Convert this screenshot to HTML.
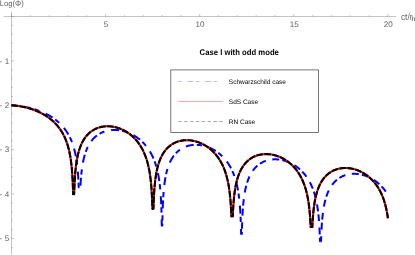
<!DOCTYPE html>
<html><head><meta charset="utf-8"><title>plot</title>
<style>
html,body{margin:0;padding:0;background:#fff;}
body{width:415px;height:255px;overflow:hidden;font-family:"Liberation Sans",sans-serif;}
svg{display:block;will-change:transform;}
text{font-family:"Liberation Sans",sans-serif;text-rendering:geometricPrecision;}
</style></head><body>
<svg width="415" height="255" viewBox="0 0 415 255">
<rect width="415" height="255" fill="#fff"/>
<g stroke="#888" stroke-width="0.5" fill="none">
<line x1="3.5" y1="16.5" x2="396" y2="16.5"/>
<line x1="11.5" y1="11.8" x2="11.5" y2="254.4"/>
<line x1="11.50" y1="16.5" x2="11.50" y2="14.0"/><line x1="30.32" y1="16.5" x2="30.32" y2="15.1"/><line x1="49.14" y1="16.5" x2="49.14" y2="15.1"/><line x1="67.96" y1="16.5" x2="67.96" y2="15.1"/><line x1="86.78" y1="16.5" x2="86.78" y2="15.1"/><line x1="105.60" y1="16.5" x2="105.60" y2="14.0"/><line x1="124.42" y1="16.5" x2="124.42" y2="15.1"/><line x1="143.24" y1="16.5" x2="143.24" y2="15.1"/><line x1="162.06" y1="16.5" x2="162.06" y2="15.1"/><line x1="180.88" y1="16.5" x2="180.88" y2="15.1"/><line x1="199.70" y1="16.5" x2="199.70" y2="14.0"/><line x1="218.52" y1="16.5" x2="218.52" y2="15.1"/><line x1="237.34" y1="16.5" x2="237.34" y2="15.1"/><line x1="256.16" y1="16.5" x2="256.16" y2="15.1"/><line x1="274.98" y1="16.5" x2="274.98" y2="15.1"/><line x1="293.80" y1="16.5" x2="293.80" y2="14.0"/><line x1="312.62" y1="16.5" x2="312.62" y2="15.1"/><line x1="331.44" y1="16.5" x2="331.44" y2="15.1"/><line x1="350.26" y1="16.5" x2="350.26" y2="15.1"/><line x1="369.08" y1="16.5" x2="369.08" y2="15.1"/><line x1="387.90" y1="16.5" x2="387.90" y2="14.0"/>
<line x1="11.5" y1="16.50" x2="14.0" y2="16.50"/><line x1="11.5" y1="25.38" x2="12.9" y2="25.38"/><line x1="11.5" y1="34.26" x2="12.9" y2="34.26"/><line x1="11.5" y1="43.14" x2="12.9" y2="43.14"/><line x1="11.5" y1="52.02" x2="12.9" y2="52.02"/><line x1="11.5" y1="60.90" x2="14.0" y2="60.90"/><line x1="11.5" y1="69.78" x2="12.9" y2="69.78"/><line x1="11.5" y1="78.66" x2="12.9" y2="78.66"/><line x1="11.5" y1="87.54" x2="12.9" y2="87.54"/><line x1="11.5" y1="96.42" x2="12.9" y2="96.42"/><line x1="11.5" y1="105.30" x2="14.0" y2="105.30"/><line x1="11.5" y1="114.18" x2="12.9" y2="114.18"/><line x1="11.5" y1="123.06" x2="12.9" y2="123.06"/><line x1="11.5" y1="131.94" x2="12.9" y2="131.94"/><line x1="11.5" y1="140.82" x2="12.9" y2="140.82"/><line x1="11.5" y1="149.70" x2="14.0" y2="149.70"/><line x1="11.5" y1="158.58" x2="12.9" y2="158.58"/><line x1="11.5" y1="167.46" x2="12.9" y2="167.46"/><line x1="11.5" y1="176.34" x2="12.9" y2="176.34"/><line x1="11.5" y1="185.22" x2="12.9" y2="185.22"/><line x1="11.5" y1="194.10" x2="14.0" y2="194.10"/><line x1="11.5" y1="202.98" x2="12.9" y2="202.98"/><line x1="11.5" y1="211.86" x2="12.9" y2="211.86"/><line x1="11.5" y1="220.74" x2="12.9" y2="220.74"/><line x1="11.5" y1="229.62" x2="12.9" y2="229.62"/><line x1="11.5" y1="238.50" x2="14.0" y2="238.50"/><line x1="11.5" y1="247.38" x2="12.9" y2="247.38"/>
</g>
<g font-size="8.1" fill="#5e5e5e">
<text x="106.00" y="26.8" text-anchor="middle">5</text><text x="200.10" y="26.8" text-anchor="middle">10</text><text x="294.20" y="26.8" text-anchor="middle">15</text><text x="388.30" y="26.8" text-anchor="middle">20</text>
<text x="-0.5" y="63.50">-</text><text x="9.3" y="63.50" text-anchor="end">1</text><text x="-0.5" y="107.90">-</text><text x="9.3" y="107.90" text-anchor="end">2</text><text x="-0.5" y="152.30">-</text><text x="9.3" y="152.30" text-anchor="end">3</text><text x="-0.5" y="196.70">-</text><text x="9.3" y="196.70" text-anchor="end">4</text><text x="-0.5" y="241.10">-</text><text x="9.3" y="241.10" text-anchor="end">5</text>
<text x="-0.3" y="5.9" font-size="8" textLength="24" lengthAdjust="spacingAndGlyphs">Log(Φ)</text>
<text x="400.9" y="19.9" font-size="9.3" textLength="11.6" lengthAdjust="spacingAndGlyphs">ct/r</text><text x="411.75" y="21.4" font-size="6.4" fill="#444">h</text>
</g>
<text x="199.6" y="54.8" font-size="8.3" textLength="79.3" lengthAdjust="spacingAndGlyphs" font-weight="bold" fill="#000">Case I with odd mode</text>
<rect x="170.8" y="69.9" width="147.7" height="62.6" fill="#fff" stroke="#555" stroke-width="0.8"/>
<line x1="178.3" y1="81.5" x2="222.8" y2="81.5" stroke="#a8a8ff" stroke-width="0.8" stroke-dasharray="3.5 5.5 6.3 2.4"/>
<line x1="178.3" y1="101.5" x2="222.9" y2="101.5" stroke="#ff5050" stroke-width="0.5"/>
<line x1="178.3" y1="121.5" x2="222.9" y2="121.5" stroke="#555" stroke-width="0.5" stroke-dasharray="3.5 2.35"/>
<g font-size="6.5" fill="#000">
<text x="228.8" y="84.3">Schwarzschild case</text>
<text x="228.8" y="104.2">SdS Case</text>
<text x="228.8" y="124.2">RN Case</text>
</g>
<g fill="none" stroke-linejoin="round">
<g stroke="#0000ff" stroke-width="2.0"><path d="M11.5,105.3 L11.51,105.3 L11.52,105.3 L11.54,105.3 L11.56,105.3 L11.59,105.3 L11.62,105.31 L11.66,105.31 L11.7,105.31 L11.75,105.31 L11.8,105.31 L11.86,105.32 L11.92,105.32 L11.99,105.32 L12.06,105.33 L12.14,105.33 L12.22,105.34 L12.31,105.34 L12.4,105.35 L12.49,105.35 L12.6,105.36 L12.7,105.36 L12.81,105.37 L12.93,105.38 L13.05,105.39 L13.18,105.39 L13.31,105.4 L13.44,105.41 L13.58,105.42 L13.72,105.43 L13.87,105.44 L14.03,105.45 L14.19,105.46 L14.35,105.48 L14.52,105.49 L14.69,105.5 L14.86,105.52 L15.05,105.53 L15.23,105.55 L15.42,105.56 L15.61,105.58 L15.81,105.6 L16.02,105.62 L16.22,105.64 L16.44,105.66 L16.65,105.68 L16.87,105.7 L17.1,105.73 L17.33,105.75 L17.56,105.78 L17.8,105.8 L18.04,105.83 L18.28,105.86 L18.53,105.89 L18.78,105.92 L19.04,105.95 L19.3,105.98 L19.57,106.02 L19.83,106.05 L20.11,106.09 L20.38,106.13 L20.66,106.17 L20.95,106.21 L21.23,106.25 L21.52,106.3 L21.82,106.34 L22.11,106.39 L22.41,106.44 L22.72,106.49 L23.03,106.54 L23.34,106.59 L23.65,106.64 L23.97,106.7 L24.29,106.76 L24.61,106.82 L24.94,106.88 L25.27,106.94 L25.6,107.01 L25.94,107.08 L26.28,107.15 L26.62,107.22 L26.96,107.29 L27.31,107.36 L27.66,107.44 L28.01,107.52 L28.37,107.6 L28.72,107.68 L29.08,107.77 L29.45,107.86 L29.81,107.95 L30.18,108.04 L30.55,108.13 L30.92,108.23 L31.29,108.33 L31.67,108.43 L32.04,108.53 L32.42,108.64 L32.8,108.75 L33.19,108.86 L33.57,108.97 L33.96,109.09 L34.35,109.2 L34.74,109.32 L35.13,109.45 L35.52,109.57 L35.92,109.7 L36.31,109.84 L36.71,109.97 L37.11,110.11 L37.51,110.25 L37.91,110.39 L38.31,110.54 L38.72,110.68 L39.12,110.84 L39.53,110.99 L39.93,111.15 L40.34,111.31 L40.75,111.47 L41.16,111.64 L41.56,111.81 L41.97,111.98 L42.38,112.16 L42.79,112.34 L43.21,112.52 L43.62,112.71 L44.03,112.9 L44.44,113.09 L44.85,113.28 L45.26,113.48 L45.68,113.69 L46.09,113.89 L46.5,114.1 L46.91,114.32 L47.32,114.54 L47.73,114.76 L48.15,114.98 L48.56,115.21 L48.97,115.44 L49.38,115.68 L49.78,115.92 L50.19,116.16 L50.6,116.41 L51.01,116.66 L51.41,116.92 L51.82,117.18 L52.22,117.44 L52.63,117.71 L53.03,117.98 L53.43,118.26 L53.83,118.54 L54.23,118.83 L54.63,119.12 L55.02,119.41 L55.42,119.71 L55.81,120.02 L56.2,120.33 L56.59,120.64 L56.98,120.96 L57.37,121.28 L57.75,121.61 L58.14,121.94 L58.52,122.28 L58.9,122.62 L59.27,122.97 L59.65,123.33 L60.02,123.69 L60.39,124.05 L60.76,124.42 L61.13,124.8 L61.49,125.18 L61.86,125.57 L62.22,125.96 L62.57,126.36 L62.93,126.77 L63.28,127.18 L63.63,127.6 L63.98,128.02 L64.32,128.45 L64.66,128.89 L65.0,129.34 L65.34,129.79 L65.67,130.25 L66.0,130.72 L66.33,131.19 L66.65,131.68 L66.97,132.17 L67.29,132.67 L67.6,133.17 L67.91,133.69 L68.22,134.21 L68.53,134.75 L68.83,135.29 L69.12,135.84 L69.42,136.4 L69.71,136.97 L70.0,137.55 L70.28,138.14 L70.56,138.75 L70.83,139.36 L71.11,139.98 L71.37,140.62 L71.64,141.27 L71.9,141.93 L72.16,142.6 L72.41,143.29 L72.66,143.99 L72.9,144.71 L73.14,145.44 L73.38,146.19 L73.61,146.95 L73.84,147.73 L74.07,148.52 L74.29,149.33 L74.5,150.17 L74.72,151.02 L74.92,151.89 L75.13,152.79 L75.33,153.7 L75.52,154.64 L75.71,155.61 L75.9,156.6 L76.08,157.61 L76.25,158.66 L76.42,159.73 L76.59,160.84 L76.75,161.98 L76.91,163.16 L77.07,164.38 L77.22,165.63 L77.36,166.93 L77.5,168.28 L77.63,169.67 L77.76,171.12 L77.89,172.63 L78.01,174.19 L78.13,175.83 L78.24,177.54 L78.34,179.33 L78.45,181.2 L78.54,183.17 L78.63,185.26 L78.72,187.22 L78.8,187.22 L78.88,187.22 L78.95,187.22 L79.02,187.22 L79.08,187.22 L79.14,187.22 L79.19,187.22 L79.24,187.22 L79.28,187.22 L79.32,187.22 L79.35,187.22 L79.38,187.22 L79.4,187.22 L79.42,187.22 L79.43,187.22 L79.44,187.22" stroke-dasharray="8.0 3.1 5.3 6.9" stroke-dashoffset="11.21"/><path d="M79.44,187.22 L79.45,187.22 L79.47,187.22 L79.49,187.22 L79.52,187.22 L79.55,187.22 L79.59,187.22 L79.63,187.22 L79.69,187.22 L79.74,187.22 L79.81,187.22 L79.88,187.22 L79.95,187.22 L80.03,187.22 L80.12,187.22 L80.22,187.22 L80.32,187.22 L80.42,186.58 L80.53,184.53 L80.65,182.58 L80.77,180.73 L80.9,178.97 L81.04,177.3 L81.18,175.7 L81.33,174.16 L81.48,172.69 L81.64,171.28 L81.8,169.93 L81.97,168.62 L82.15,167.36 L82.33,166.15 L82.51,164.98 L82.71,163.85 L82.9,162.76 L83.11,161.7 L83.32,160.68 L83.53,159.68 L83.75,158.72 L83.98,157.79 L84.21,156.88 L84.44,156.01 L84.69,155.15 L84.93,154.32 L85.19,153.51 L85.44,152.73 L85.71,151.97 L85.97,151.23 L86.25,150.5 L86.52,149.8 L86.81,149.12 L87.1,148.45 L87.39,147.8 L87.69,147.17 L87.99,146.55 L88.3,145.95 L88.61,145.37 L88.93,144.8 L89.25,144.24 L89.57,143.7 L89.91,143.17 L90.24,142.66 L90.58,142.16 L90.93,141.67 L91.28,141.2 L91.63,140.73 L91.99,140.28 L92.35,139.84 L92.71,139.42 L93.08,139.0 L93.46,138.6 L93.84,138.21 L94.22,137.82 L94.6,137.45 L94.99,137.09 L95.39,136.74 L95.78,136.4 L96.19,136.07 L96.59,135.75 L97.0,135.44 L97.41,135.13 L97.83,134.84 L98.24,134.56 L98.67,134.29 L99.09,134.02 L99.52,133.77 L99.95,133.52 L100.39,133.28 L100.82,133.06 L101.26,132.84 L101.71,132.62 L102.15,132.42 L102.6,132.23 L103.05,132.04 L103.51,131.86 L103.96,131.7 L104.42,131.53 L104.88,131.38 L105.35,131.24 L105.81,131.1 L106.28,130.97 L106.75,130.85 L107.22,130.74 L107.7,130.63 L108.18,130.53 L108.65,130.44 L109.13,130.36 L109.62,130.28 L110.1,130.22 L110.58,130.16 L111.07,130.1 L111.56,130.06 L112.05,130.02 L112.54,129.99 L113.03,129.97 L113.52,129.95 L114.02,129.95 L114.51,129.95 L115.01,129.95 L115.5,129.97 L116.0,129.99 L116.5,130.01 L117.0,130.05 L117.5,130.09 L118.0,130.14 L118.5,130.2 L119.0,130.26 L119.5,130.33 L120.0,130.41 L120.5,130.49 L121.0,130.59 L121.5,130.69 L122.0,130.79 L122.5,130.9 L123.0,131.02 L123.5,131.15 L124.0,131.28 L124.5,131.42 L125.0,131.57 L125.5,131.73 L126.0,131.89 L126.49,132.06 L126.99,132.23 L127.48,132.41 L127.98,132.6 L128.47,132.8 L128.96,133.0 L129.45,133.21 L129.94,133.43 L130.43,133.65 L130.92,133.88 L131.4,134.12 L131.88,134.36 L132.37,134.61 L132.85,134.87 L133.32,135.14 L133.8,135.41 L134.28,135.69 L134.75,135.97 L135.22,136.27 L135.69,136.57 L136.15,136.88 L136.62,137.19 L137.08,137.51 L137.54,137.84 L137.99,138.18 L138.45,138.52 L138.9,138.87 L139.35,139.23 L139.79,139.6 L140.24,139.97 L140.68,140.35 L141.12,140.74 L141.55,141.14 L141.98,141.54 L142.41,141.95 L142.83,142.37 L143.26,142.8 L143.67,143.24 L144.09,143.68 L144.5,144.13 L144.91,144.59 L145.31,145.06 L145.72,145.54 L146.11,146.03 L146.51,146.52 L146.9,147.02 L147.28,147.54 L147.66,148.06 L148.04,148.59 L148.42,149.13 L148.79,149.68 L149.15,150.24 L149.51,150.81 L149.87,151.4 L150.23,151.99 L150.57,152.59 L150.92,153.2 L151.26,153.83 L151.59,154.47 L151.93,155.11 L152.25,155.77 L152.57,156.45 L152.89,157.13 L153.2,157.83 L153.51,158.55 L153.81,159.27 L154.11,160.01 L154.4,160.77 L154.69,161.54 L154.98,162.33 L155.25,163.14 L155.53,163.96 L155.79,164.8 L156.06,165.66 L156.31,166.54 L156.57,167.44 L156.81,168.36 L157.06,169.3 L157.29,170.26 L157.52,171.25 L157.75,172.27 L157.97,173.31 L158.18,174.38 L158.39,175.48 L158.6,176.61 L158.79,177.78 L158.99,178.98 L159.17,180.22 L159.35,181.5 L159.53,182.82 L159.7,184.19 L159.86,185.6 L160.02,187.07 L160.18,188.6 L160.32,190.18 L160.46,191.84 L160.6,193.56 L160.73,195.37 L160.85,197.26 L160.97,199.25 L161.08,201.35 L161.18,203.56 L161.28,205.91 L161.38,208.41 L161.47,211.08 L161.55,213.94 L161.62,217.04 L161.69,220.4 L161.76,224.08 L161.81,225.62 L161.87,225.62 L161.91,225.62 L161.95,225.62 L161.98,225.62 L162.01,225.62 L162.03,225.62 L162.05,225.62 L162.06,225.62" stroke-dasharray="8.0 3.1 5.3 6.9" stroke-dashoffset="20.96"/><path d="M162.06,225.62 L162.07,225.62 L162.09,225.62 L162.11,225.62 L162.13,225.62 L162.17,225.62 L162.2,225.62 L162.25,225.62 L162.3,225.62 L162.35,224.19 L162.41,220.53 L162.48,217.2 L162.55,214.13 L162.63,211.29 L162.72,208.65 L162.81,206.19 L162.9,203.88 L163.0,201.7 L163.11,199.64 L163.22,197.7 L163.34,195.85 L163.47,194.09 L163.6,192.41 L163.73,190.81 L163.87,189.27 L164.02,187.8 L164.17,186.39 L164.33,185.03 L164.49,183.73 L164.66,182.47 L164.83,181.26 L165.01,180.08 L165.2,178.95 L165.39,177.86 L165.59,176.8 L165.79,175.77 L165.99,174.78 L166.2,173.82 L166.42,172.88 L166.64,171.98 L166.87,171.1 L167.1,170.24 L167.34,169.41 L167.58,168.6 L167.83,167.81 L168.08,167.05 L168.34,166.3 L168.6,165.58 L168.87,164.88 L169.14,164.19 L169.42,163.52 L169.7,162.87 L169.99,162.23 L170.28,161.62 L170.57,161.01 L170.87,160.43 L171.18,159.85 L171.49,159.3 L171.8,158.75 L172.12,158.22 L172.44,157.71 L172.77,157.2 L173.1,156.71 L173.44,156.24 L173.78,155.77 L174.12,155.32 L174.47,154.88 L174.82,154.45 L175.18,154.03 L175.53,153.62 L175.9,153.23 L176.27,152.84 L176.64,152.47 L177.01,152.11 L177.39,151.75 L177.77,151.41 L178.16,151.07 L178.55,150.75 L178.94,150.44 L179.33,150.13 L179.73,149.84 L180.14,149.55 L180.54,149.28 L180.95,149.01 L181.36,148.75 L181.78,148.5 L182.19,148.26 L182.61,148.03 L183.04,147.81 L183.46,147.59 L183.89,147.39 L184.32,147.19 L184.76,147.0 L185.19,146.82 L185.63,146.65 L186.07,146.48 L186.52,146.33 L186.96,146.18 L187.41,146.04 L187.86,145.9 L188.31,145.78 L188.77,145.66 L189.22,145.55 L189.68,145.45 L190.14,145.36 L190.6,145.27 L191.07,145.2 L191.53,145.12 L192.0,145.06 L192.46,145.01 L192.93,144.96 L193.4,144.92 L193.88,144.88 L194.35,144.86 L194.82,144.84 L195.3,144.83 L195.77,144.82 L196.25,144.83 L196.73,144.84 L197.2,144.85 L197.68,144.88 L198.16,144.91 L198.64,144.95 L199.12,144.99 L199.6,145.05 L200.08,145.11 L200.57,145.17 L201.05,145.25 L201.53,145.33 L202.01,145.42 L202.49,145.51 L202.97,145.61 L203.46,145.72 L203.94,145.84 L204.42,145.96 L204.9,146.09 L205.38,146.23 L205.86,146.37 L206.34,146.52 L206.81,146.68 L207.29,146.85 L207.77,147.02 L208.24,147.2 L208.72,147.38 L209.19,147.57 L209.66,147.77 L210.14,147.98 L210.61,148.19 L211.08,148.41 L211.54,148.64 L212.01,148.87 L212.47,149.11 L212.94,149.36 L213.4,149.62 L213.86,149.88 L214.32,150.15 L214.77,150.42 L215.23,150.71 L215.68,151.0 L216.13,151.29 L216.58,151.6 L217.02,151.91 L217.47,152.23 L217.91,152.56 L218.35,152.89 L218.78,153.23 L219.22,153.58 L219.65,153.93 L220.08,154.3 L220.5,154.67 L220.93,155.04 L221.35,155.43 L221.76,155.82 L222.18,156.22 L222.59,156.63 L223.0,157.05 L223.4,157.47 L223.81,157.91 L224.21,158.35 L224.6,158.8 L224.99,159.25 L225.38,159.72 L225.77,160.2 L226.15,160.68 L226.53,161.17 L226.9,161.67 L227.27,162.18 L227.64,162.7 L228.01,163.23 L228.37,163.77 L228.72,164.32 L229.07,164.88 L229.42,165.44 L229.76,166.02 L230.1,166.61 L230.44,167.21 L230.77,167.82 L231.1,168.45 L231.42,169.08 L231.74,169.73 L232.05,170.38 L232.36,171.05 L232.67,171.74 L232.97,172.44 L233.26,173.15 L233.55,173.87 L233.84,174.61 L234.12,175.37 L234.4,176.14 L234.67,176.92 L234.94,177.72 L235.2,178.54 L235.46,179.38 L235.71,180.24 L235.96,181.12 L236.2,182.01 L236.44,182.93 L236.67,183.87 L236.9,184.84 L237.12,185.83 L237.34,186.84 L237.55,187.88 L237.75,188.95 L237.96,190.05 L238.15,191.18 L238.34,192.34 L238.53,193.54 L238.71,194.78 L238.88,196.06 L239.05,197.38 L239.21,198.74 L239.37,200.16 L239.52,201.63 L239.67,203.15 L239.81,204.74 L239.95,206.39 L240.07,208.11 L240.2,209.92 L240.32,211.81 L240.43,213.8 L240.54,215.89 L240.64,218.11 L240.73,220.46 L240.82,222.95 L240.91,225.62 L240.99,228.49 L241.06,231.58 L241.13,234.06 L241.19,234.06 L241.24,234.06 L241.29,234.06 L241.34,234.06 L241.38,234.06 L241.41,234.06 L241.43,234.06 L241.45,234.06 L241.47,234.06 L241.48,234.06" stroke-dasharray="8.0 3.1 5.3 6.9" stroke-dashoffset="5.78"/><path d="M241.48,234.06 L241.49,234.06 L241.51,234.06 L241.53,234.06 L241.55,234.06 L241.59,234.06 L241.62,234.06 L241.67,234.06 L241.72,234.06 L241.77,234.06 L241.83,234.06 L241.9,231.73 L241.97,228.67 L242.05,225.83 L242.13,223.19 L242.22,220.73 L242.32,218.42 L242.42,216.24 L242.53,214.18 L242.64,212.24 L242.76,210.39 L242.88,208.63 L243.01,206.95 L243.14,205.35 L243.28,203.81 L243.43,202.34 L243.58,200.93 L243.74,199.57 L243.9,198.27 L244.07,197.01 L244.24,195.79 L244.42,194.62 L244.6,193.49 L244.79,192.4 L244.99,191.34 L245.19,190.31 L245.39,189.32 L245.6,188.35 L245.82,187.42 L246.04,186.51 L246.27,185.63 L246.5,184.77 L246.74,183.94 L246.98,183.13 L247.22,182.35 L247.47,181.58 L247.73,180.84 L247.99,180.11 L248.26,179.41 L248.53,178.72 L248.8,178.05 L249.08,177.4 L249.37,176.77 L249.66,176.15 L249.95,175.55 L250.25,174.96 L250.56,174.39 L250.86,173.83 L251.18,173.28 L251.49,172.75 L251.81,172.24 L252.14,171.74 L252.47,171.24 L252.8,170.77 L253.14,170.3 L253.48,169.85 L253.83,169.41 L254.18,168.98 L254.53,168.56 L254.89,168.15 L255.25,167.76 L255.62,167.37 L255.99,167.0 L256.36,166.63 L256.74,166.28 L257.12,165.93 L257.5,165.6 L257.89,165.28 L258.28,164.96 L258.67,164.66 L259.07,164.36 L259.47,164.08 L259.87,163.8 L260.28,163.53 L260.69,163.27 L261.1,163.02 L261.52,162.78 L261.94,162.55 L262.36,162.33 L262.78,162.11 L263.21,161.91 L263.64,161.71 L264.07,161.52 L264.51,161.34 L264.94,161.17 L265.38,161.0 L265.82,160.84 L266.27,160.7 L266.71,160.56 L267.16,160.42 L267.61,160.3 L268.06,160.18 L268.52,160.07 L268.97,159.97 L269.43,159.88 L269.89,159.79 L270.35,159.71 L270.81,159.64 L271.28,159.58 L271.74,159.52 L272.21,159.47 L272.68,159.43 L273.15,159.4 L273.62,159.37 L274.09,159.35 L274.56,159.34 L275.03,159.33 L275.51,159.34 L275.98,159.35 L276.46,159.36 L276.93,159.39 L277.41,159.42 L277.89,159.46 L278.37,159.5 L278.85,159.55 L279.33,159.61 L279.8,159.68 L280.28,159.75 L280.76,159.83 L281.24,159.92 L281.72,160.02 L282.2,160.12 L282.68,160.23 L283.16,160.34 L283.64,160.47 L284.12,160.6 L284.59,160.73 L285.07,160.88 L285.55,161.03 L286.02,161.18 L286.5,161.35 L286.97,161.52 L287.45,161.7 L287.92,161.88 L288.39,162.07 L288.86,162.27 L289.33,162.48 L289.8,162.69 L290.26,162.91 L290.73,163.14 L291.19,163.37 L291.66,163.61 L292.12,163.86 L292.58,164.11 L293.03,164.37 L293.49,164.64 L293.94,164.92 L294.39,165.2 L294.84,165.49 L295.29,165.79 L295.74,166.09 L296.18,166.4 L296.62,166.72 L297.06,167.05 L297.5,167.38 L297.93,167.72 L298.37,168.07 L298.8,168.42 L299.22,168.78 L299.65,169.15 L300.07,169.53 L300.49,169.92 L300.9,170.31 L301.31,170.71 L301.72,171.12 L302.13,171.54 L302.53,171.96 L302.93,172.39 L303.33,172.83 L303.73,173.28 L304.12,173.74 L304.5,174.21 L304.89,174.68 L305.27,175.16 L305.64,175.65 L306.02,176.16 L306.39,176.67 L306.75,177.18 L307.11,177.71 L307.47,178.25 L307.83,178.8 L308.18,179.36 L308.52,179.92 L308.86,180.5 L309.2,181.09 L309.54,181.69 L309.87,182.3 L310.19,182.93 L310.51,183.56 L310.83,184.2 L311.14,184.86 L311.45,185.53 L311.75,186.22 L312.05,186.91 L312.35,187.62 L312.63,188.35 L312.92,189.09 L313.2,189.84 L313.48,190.61 L313.75,191.4 L314.01,192.2 L314.27,193.02 L314.53,193.86 L314.78,194.72 L315.03,195.59 L315.27,196.49 L315.51,197.41 L315.74,198.35 L315.96,199.31 L316.18,200.3 L316.4,201.31 L316.61,202.35 L316.82,203.42 L317.02,204.52 L317.21,205.65 L317.4,206.82 L317.58,208.02 L317.76,209.25 L317.94,210.53 L318.1,211.85 L318.27,213.22 L318.42,214.63 L318.58,216.1 L318.72,217.62 L318.86,219.21 L319.0,220.86 L319.13,222.59 L319.25,224.39 L319.37,226.28 L319.48,228.27 L319.59,230.37 L319.69,232.58 L319.78,234.93 L319.87,237.42 L319.96,240.09 L320.03,241.16 L320.11,241.16 L320.17,241.16 L320.23,241.16 L320.29,241.16 L320.34,241.16 L320.38,241.16 L320.42,241.16 L320.45,241.16 L320.48,241.16 L320.5,241.16 L320.51,241.16 L320.52,241.16" stroke-dasharray="7.0 3.1 6.6 6.6" stroke-dashoffset="4.53"/><path d="M320.52,241.16 L320.53,241.16 L320.54,241.16 L320.55,241.16 L320.57,241.16 L320.6,241.16 L320.63,241.16 L320.67,241.16 L320.71,241.16 L320.76,241.16 L320.81,241.16 L320.88,241.16 L320.94,241.16 L321.01,241.16 L321.09,240.3 L321.18,237.66 L321.27,235.2 L321.36,232.89 L321.46,230.71 L321.57,228.65 L321.68,226.71 L321.8,224.86 L321.92,223.1 L322.05,221.42 L322.19,219.82 L322.33,218.28 L322.47,216.81 L322.63,215.4 L322.78,214.04 L322.94,212.74 L323.11,211.48 L323.29,210.26 L323.46,209.09 L323.65,207.96 L323.84,206.87 L324.03,205.81 L324.23,204.78 L324.44,203.79 L324.65,202.82 L324.86,201.89 L325.09,200.98 L325.31,200.1 L325.54,199.25 L325.78,198.41 L326.02,197.61 L326.27,196.82 L326.52,196.05 L326.77,195.31 L327.04,194.59 L327.3,193.88 L327.57,193.19 L327.85,192.52 L328.13,191.87 L328.41,191.24 L328.7,190.62 L329.0,190.02 L329.3,189.43 L329.6,188.86 L329.91,188.3 L330.22,187.76 L330.54,187.23 L330.86,186.71 L331.18,186.21 L331.51,185.72 L331.85,185.24 L332.18,184.77 L332.53,184.32 L332.87,183.88 L333.22,183.45 L333.58,183.03 L333.94,182.62 L334.3,182.23 L334.66,181.84 L335.03,181.47 L335.4,181.1 L335.78,180.75 L336.16,180.41 L336.55,180.07 L336.93,179.75 L337.32,179.43 L337.72,179.13 L338.11,178.83 L338.51,178.55 L338.92,178.27 L339.32,178.0 L339.73,177.74 L340.15,177.5 L340.56,177.25 L340.98,177.02 L341.4,176.8 L341.83,176.58 L342.25,176.38 L342.68,176.18 L343.11,175.99 L343.55,175.81 L343.99,175.64 L344.43,175.47 L344.87,175.32 L345.31,175.17 L345.76,175.03 L346.2,174.89 L346.65,174.77 L347.11,174.65 L347.56,174.54 L348.02,174.44 L348.47,174.35 L348.93,174.26 L349.39,174.18 L349.86,174.11 L350.32,174.05 L350.79,173.99 L351.25,173.94 L351.72,173.9 L352.19,173.87 L352.66,173.84 L353.13,173.82 L353.6,173.81 L354.08,173.8 L354.55,173.81 L355.03,173.82 L355.5,173.83 L355.98,173.86 L356.46,173.89 L356.93,173.93 L357.41,173.97 L357.89,174.02 L358.37,174.08 L358.85,174.15 L359.33,174.22 L359.81,174.31 L360.29,174.39 L360.77,174.49 L361.24,174.59 L361.72,174.7 L362.2,174.81 L362.68,174.94 L363.16,175.07 L363.64,175.2 L364.11,175.35 L364.59,175.5 L365.07,175.65 L365.54,175.82 L366.02,175.99 L366.49,176.17 L366.96,176.35 L367.43,176.54 L367.9,176.74 L368.37,176.95 L368.84,177.16 L369.31,177.38 L369.77,177.61 L370.24,177.84 L370.7,178.08 L371.16,178.33 L371.62,178.58 L372.08,178.84 L372.53,179.11 L372.99,179.39 L373.44,179.67 L373.89,179.96 L374.34,180.26 L374.78,180.56 L375.23,180.87 L375.67,181.19 L376.11,181.52 L376.54,181.85 L376.98,182.19 L377.41,182.54 L377.84,182.89 L378.27,183.26 L378.69,183.63 L379.11,184.0 L379.53,184.39 L379.95,184.78 L380.36,185.18 L380.77,185.59 L381.17,186.01 L381.58,186.43 L381.98,186.86 L382.38,187.3 L382.77,187.75 L383.16,188.21 L383.55,188.68 L383.93,189.15 L384.31,189.63 L384.69,190.13 L385.06,190.63 L385.43,191.14 L385.8,191.66 L386.16,192.18 L386.52,192.72 L386.87,193.27 L387.22,193.83 L387.57,194.4 L387.9,194.96" stroke-dasharray="7.0 3.1 6.6 6.6" stroke-dashoffset="11.27"/></g>
<path d="M11.5,105.3 L11.51,105.3 L11.52,105.3 L11.54,105.3 L11.56,105.3 L11.58,105.3 L11.61,105.31 L11.65,105.31 L11.68,105.31 L11.73,105.31 L11.78,105.32 L11.83,105.32 L11.89,105.32 L11.95,105.33 L12.01,105.33 L12.08,105.34 L12.16,105.34 L12.24,105.35 L12.32,105.35 L12.41,105.36 L12.5,105.37 L12.6,105.37 L12.7,105.38 L12.81,105.39 L12.92,105.4 L13.03,105.4 L13.15,105.41 L13.27,105.42 L13.4,105.43 L13.53,105.45 L13.67,105.46 L13.81,105.47 L13.95,105.48 L14.1,105.5 L14.26,105.51 L14.41,105.52 L14.58,105.54 L14.74,105.56 L14.91,105.57 L15.08,105.59 L15.26,105.61 L15.44,105.63 L15.63,105.65 L15.82,105.67 L16.01,105.69 L16.21,105.71 L16.41,105.74 L16.62,105.76 L16.83,105.79 L17.04,105.82 L17.25,105.84 L17.47,105.87 L17.7,105.9 L17.93,105.93 L18.16,105.97 L18.39,106.0 L18.63,106.04 L18.87,106.07 L19.12,106.11 L19.37,106.15 L19.62,106.19 L19.88,106.23 L20.13,106.27 L20.4,106.32 L20.66,106.36 L20.93,106.41 L21.2,106.46 L21.48,106.51 L21.76,106.56 L22.04,106.61 L22.32,106.67 L22.61,106.73 L22.9,106.78 L23.19,106.85 L23.49,106.91 L23.79,106.97 L24.09,107.04 L24.39,107.1 L24.7,107.17 L25.01,107.24 L25.32,107.32 L25.64,107.39 L25.95,107.47 L26.27,107.55 L26.59,107.63 L26.92,107.71 L27.24,107.8 L27.57,107.89 L27.9,107.98 L28.24,108.07 L28.57,108.16 L28.91,108.26 L29.25,108.36 L29.59,108.46 L29.93,108.56 L30.28,108.67 L30.63,108.78 L30.97,108.89 L31.33,109.0 L31.68,109.12 L32.03,109.24 L32.39,109.36 L32.74,109.48 L33.1,109.61 L33.46,109.74 L33.82,109.87 L34.18,110.0 L34.55,110.14 L34.91,110.28 L35.28,110.42 L35.64,110.57 L36.01,110.72 L36.38,110.87 L36.75,111.02 L37.12,111.18 L37.49,111.34 L37.86,111.5 L38.24,111.67 L38.61,111.84 L38.98,112.01 L39.36,112.19 L39.73,112.37 L40.11,112.55 L40.48,112.73 L40.86,112.92 L41.24,113.11 L41.61,113.31 L41.99,113.51 L42.36,113.71 L42.74,113.92 L43.12,114.13 L43.49,114.34 L43.87,114.56 L44.25,114.78 L44.62,115.0 L45.0,115.23 L45.37,115.46 L45.75,115.69 L46.12,115.93 L46.5,116.18 L46.87,116.42 L47.24,116.67 L47.62,116.93 L47.99,117.19 L48.36,117.45 L48.73,117.72 L49.1,117.99 L49.46,118.26 L49.83,118.54 L50.2,118.83 L50.56,119.12 L50.92,119.41 L51.29,119.71 L51.65,120.01 L52.01,120.32 L52.36,120.63 L52.72,120.94 L53.08,121.26 L53.43,121.59 L53.78,121.92 L54.13,122.26 L54.48,122.6 L54.83,122.94 L55.17,123.29 L55.52,123.65 L55.86,124.01 L56.2,124.38 L56.53,124.75 L56.87,125.13 L57.2,125.52 L57.53,125.91 L57.86,126.3 L58.19,126.7 L58.51,127.11 L58.83,127.53 L59.15,127.95 L59.47,128.38 L59.79,128.81 L60.1,129.25 L60.41,129.7 L60.71,130.15 L61.02,130.62 L61.32,131.09 L61.62,131.56 L61.91,132.05 L62.21,132.54 L62.5,133.04 L62.78,133.55 L63.07,134.07 L63.35,134.6 L63.63,135.13 L63.9,135.67 L64.18,136.23 L64.44,136.79 L64.71,137.36 L64.97,137.95 L65.23,138.54 L65.49,139.14 L65.74,139.76 L65.99,140.39 L66.23,141.02 L66.47,141.67 L66.71,142.34 L66.95,143.01 L67.18,143.7 L67.41,144.41 L67.63,145.12 L67.85,145.85 L68.07,146.6 L68.28,147.37 L68.49,148.14 L68.69,148.94 L68.9,149.76 L69.09,150.59 L69.29,151.44 L69.48,152.32 L69.66,153.21 L69.84,154.13 L70.02,155.07 L70.2,156.04 L70.37,157.03 L70.53,158.05 L70.69,159.09 L70.85,160.17 L71.0,161.28 L71.15,162.42 L71.3,163.6 L71.44,164.82 L71.57,166.07 L71.7,167.37 L71.83,168.72 L71.96,170.12 L72.07,171.57 L72.19,173.07 L72.3,174.64 L72.41,176.28 L72.51,177.99 L72.6,179.78 L72.7,181.65 L72.78,183.63 L72.87,185.71 L72.95,187.91 L73.02,190.24 L73.09,192.73 L73.16,194.1 L73.22,194.1 L73.28,194.1 L73.33,194.1 L73.38,194.1 L73.42,194.1 L73.46,194.1 L73.49,194.1 L73.52,194.1 L73.55,194.1 L73.57,194.1 L73.59,194.1 L73.6,194.1 L73.61,194.1 L73.62,194.1 L73.63,194.1 L73.65,194.1 L73.68,194.1 L73.71,194.1 L73.75,194.1 L73.79,194.1 L73.84,194.1 L73.9,194.1 L73.96,194.1 L74.03,194.1 L74.1,194.1 L74.18,192.99 L74.26,190.36 L74.35,187.89 L74.45,185.58 L74.55,183.4 L74.65,181.34 L74.77,179.4 L74.89,177.55 L75.01,175.79 L75.14,174.11 L75.27,172.5 L75.42,170.97 L75.56,169.5 L75.71,168.08 L75.87,166.72 L76.03,165.42 L76.2,164.16 L76.38,162.94 L76.56,161.77 L76.74,160.64 L76.93,159.54 L77.13,158.48 L77.33,157.45 L77.53,156.46 L77.75,155.49 L77.96,154.56 L78.18,153.65 L78.41,152.77 L78.64,151.91 L78.88,151.08 L79.12,150.26 L79.37,149.48 L79.62,148.71 L79.88,147.96 L80.14,147.24 L80.41,146.53 L80.68,145.84 L80.96,145.17 L81.24,144.52 L81.52,143.88 L81.81,143.26 L82.11,142.66 L82.41,142.07 L82.71,141.49 L83.02,140.93 L83.34,140.39 L83.65,139.85 L83.98,139.33 L84.3,138.83 L84.63,138.34 L84.97,137.86 L85.31,137.39 L85.65,136.93 L86.0,136.49 L86.35,136.06 L86.71,135.64 L87.06,135.23 L87.43,134.83 L87.79,134.44 L88.17,134.06 L88.54,133.7 L88.92,133.34 L89.3,132.99 L89.68,132.66 L90.07,132.33 L90.46,132.01 L90.86,131.71 L91.26,131.41 L91.66,131.12 L92.07,130.84 L92.47,130.57 L92.88,130.31 L93.3,130.06 L93.72,129.81 L94.14,129.58 L94.56,129.35 L94.98,129.13 L95.41,128.93 L95.84,128.72 L96.28,128.53 L96.71,128.35 L97.15,128.17 L97.59,128.0 L98.04,127.84 L98.48,127.69 L98.93,127.55 L99.38,127.41 L99.83,127.28 L100.28,127.16 L100.74,127.05 L101.2,126.95 L101.65,126.85 L102.12,126.76 L102.58,126.68 L103.04,126.6 L103.51,126.54 L103.97,126.48 L104.44,126.43 L104.91,126.38 L105.38,126.34 L105.86,126.31 L106.33,126.29 L106.8,126.28 L107.28,126.27 L107.75,126.27 L108.23,126.27 L108.71,126.29 L109.19,126.31 L109.67,126.34 L110.15,126.37 L110.63,126.41 L111.11,126.46 L111.59,126.52 L112.07,126.58 L112.55,126.65 L113.03,126.73 L113.51,126.82 L113.99,126.91 L114.47,127.01 L114.95,127.11 L115.43,127.22 L115.91,127.34 L116.39,127.47 L116.87,127.6 L117.35,127.74 L117.83,127.89 L118.31,128.04 L118.78,128.2 L119.26,128.37 L119.74,128.55 L120.21,128.73 L120.68,128.92 L121.15,129.11 L121.63,129.32 L122.1,129.52 L122.56,129.74 L123.03,129.96 L123.5,130.19 L123.96,130.43 L124.42,130.68 L124.88,130.93 L125.34,131.19 L125.8,131.45 L126.26,131.72 L126.71,132.0 L127.16,132.29 L127.61,132.58 L128.06,132.88 L128.5,133.19 L128.95,133.51 L129.39,133.83 L129.83,134.16 L130.26,134.5 L130.69,134.84 L131.13,135.19 L131.55,135.55 L131.98,135.92 L132.4,136.29 L132.82,136.68 L133.24,137.07 L133.65,137.47 L134.06,137.87 L134.47,138.28 L134.88,138.71 L135.28,139.14 L135.68,139.57 L136.07,140.02 L136.47,140.47 L136.85,140.94 L137.24,141.41 L137.62,141.89 L138.0,142.38 L138.37,142.88 L138.74,143.38 L139.11,143.9 L139.47,144.43 L139.83,144.96 L140.19,145.51 L140.54,146.06 L140.89,146.63 L141.23,147.21 L141.57,147.79 L141.9,148.39 L142.23,149.0 L142.56,149.62 L142.88,150.25 L143.2,150.89 L143.52,151.55 L143.82,152.22 L144.13,152.9 L144.43,153.59 L144.72,154.3 L145.01,155.02 L145.3,155.76 L145.58,156.51 L145.86,157.28 L146.13,158.07 L146.4,158.87 L146.66,159.69 L146.92,160.52 L147.17,161.38 L147.42,162.25 L147.66,163.15 L147.9,164.06 L148.13,165.0 L148.35,165.96 L148.58,166.95 L148.79,167.96 L149.0,169.0 L149.21,170.07 L149.41,171.17 L149.61,172.3 L149.8,173.46 L149.98,174.66 L150.16,175.89 L150.34,177.17 L150.5,178.49 L150.67,179.85 L150.82,181.27 L150.98,182.73 L151.12,184.26 L151.26,185.84 L151.4,187.49 L151.53,189.22 L151.65,191.02 L151.77,192.91 L151.88,194.9 L151.99,196.99 L152.09,199.21 L152.19,201.55 L152.28,204.05 L152.36,206.72 L152.44,208.75 L152.51,208.75 L152.58,208.75 L152.64,208.75 L152.7,208.75 L152.75,208.75 L152.79,208.75 L152.83,208.75 L152.86,208.75 L152.89,208.75 L152.91,208.75 L152.92,208.75 L152.93,208.75 L152.94,208.75 L152.96,208.75 L152.98,208.75 L153.01,208.75 L153.04,208.75 L153.07,208.75 L153.12,208.75 L153.17,208.75 L153.22,208.75 L153.28,208.75 L153.35,208.75 L153.42,208.75 L153.5,206.92 L153.59,204.28 L153.68,201.81 L153.77,199.5 L153.87,197.32 L153.98,195.27 L154.09,193.32 L154.21,191.47 L154.33,189.71 L154.46,188.03 L154.6,186.43 L154.74,184.89 L154.88,183.42 L155.04,182.01 L155.19,180.65 L155.36,179.34 L155.52,178.08 L155.7,176.87 L155.88,175.69 L156.06,174.56 L156.25,173.46 L156.44,172.4 L156.65,171.38 L156.85,170.38 L157.06,169.42 L157.28,168.48 L157.5,167.57 L157.73,166.69 L157.96,165.83 L158.19,165.0 L158.44,164.19 L158.68,163.4 L158.93,162.63 L159.19,161.89 L159.45,161.16 L159.72,160.45 L159.99,159.76 L160.27,159.09 L160.55,158.44 L160.83,157.8 L161.12,157.18 L161.42,156.58 L161.72,155.99 L162.02,155.41 L162.33,154.85 L162.64,154.31 L162.96,153.77 L163.28,153.25 L163.6,152.75 L163.93,152.26 L164.27,151.78 L164.61,151.31 L164.95,150.85 L165.3,150.41 L165.65,149.98 L166.0,149.56 L166.36,149.15 L166.72,148.75 L167.09,148.36 L167.46,147.98 L167.83,147.61 L168.21,147.26 L168.59,146.91 L168.97,146.57 L169.36,146.25 L169.75,145.93 L170.15,145.62 L170.54,145.33 L170.94,145.04 L171.35,144.76 L171.76,144.49 L172.17,144.22 L172.58,143.97 L172.99,143.73 L173.41,143.49 L173.84,143.27 L174.26,143.05 L174.69,142.84 L175.12,142.64 L175.55,142.45 L175.98,142.26 L176.42,142.09 L176.86,141.92 L177.3,141.76 L177.75,141.61 L178.19,141.46 L178.64,141.33 L179.09,141.2 L179.55,141.08 L180.0,140.96 L180.46,140.86 L180.91,140.76 L181.37,140.67 L181.84,140.59 L182.3,140.52 L182.76,140.45 L183.23,140.39 L183.7,140.34 L184.16,140.29 L184.63,140.25 L185.11,140.22 L185.58,140.2 L186.05,140.19 L186.52,140.18 L187.0,140.18 L187.48,140.18 L187.95,140.2 L188.43,140.22 L188.91,140.25 L189.38,140.28 L189.86,140.32 L190.34,140.37 L190.82,140.43 L191.3,140.49 L191.78,140.56 L192.26,140.64 L192.74,140.72 L193.22,140.81 L193.7,140.91 L194.18,141.02 L194.66,141.13 L195.14,141.25 L195.62,141.37 L196.1,141.51 L196.57,141.65 L197.05,141.79 L197.53,141.95 L198.0,142.11 L198.48,142.28 L198.95,142.45 L199.42,142.63 L199.9,142.82 L200.37,143.02 L200.84,143.22 L201.31,143.43 L201.77,143.64 L202.24,143.87 L202.7,144.1 L203.17,144.33 L203.63,144.58 L204.09,144.83 L204.55,145.09 L205.0,145.35 L205.46,145.63 L205.91,145.9 L206.36,146.19 L206.81,146.48 L207.25,146.78 L207.7,147.09 L208.14,147.41 L208.58,147.73 L209.02,148.06 L209.45,148.4 L209.89,148.74 L210.32,149.09 L210.74,149.45 L211.17,149.82 L211.59,150.19 L212.01,150.58 L212.42,150.97 L212.84,151.36 L213.25,151.77 L213.65,152.18 L214.06,152.6 L214.46,153.03 L214.86,153.47 L215.25,153.92 L215.64,154.37 L216.03,154.83 L216.41,155.31 L216.8,155.79 L217.17,156.28 L217.55,156.77 L217.92,157.28 L218.28,157.8 L218.64,158.32 L219.0,158.86 L219.36,159.4 L219.71,159.96 L220.05,160.52 L220.4,161.1 L220.73,161.69 L221.07,162.28 L221.4,162.89 L221.72,163.51 L222.05,164.14 L222.36,164.79 L222.68,165.44 L222.98,166.11 L223.29,166.79 L223.59,167.49 L223.88,168.2 L224.17,168.92 L224.46,169.66 L224.74,170.41 L225.01,171.18 L225.28,171.96 L225.55,172.76 L225.81,173.58 L226.07,174.42 L226.32,175.27 L226.57,176.15 L226.81,177.04 L227.05,177.96 L227.28,178.9 L227.5,179.86 L227.72,180.84 L227.94,181.86 L228.15,182.9 L228.36,183.96 L228.56,185.06 L228.75,186.19 L228.94,187.35 L229.13,188.55 L229.31,189.79 L229.48,191.06 L229.65,192.38 L229.81,193.74 L229.97,195.16 L230.12,196.62 L230.26,198.15 L230.41,199.73 L230.54,201.38 L230.67,203.11 L230.79,204.91 L230.91,206.8 L231.02,208.79 L231.13,210.89 L231.23,213.1 L231.33,215.44 L231.42,216.3 L231.5,216.3 L231.58,216.3 L231.65,216.3 L231.72,216.3 L231.78,216.3 L231.83,216.3 L231.88,216.3 L231.93,216.3 L231.97,216.3 L232.0,216.3 L232.02,216.3 L232.04,216.3 L232.06,216.3 L232.07,216.3 L232.08,216.3 L232.1,216.3 L232.12,216.3 L232.14,216.3 L232.18,216.3 L232.21,216.3 L232.26,216.3 L232.31,216.3 L232.36,216.3 L232.42,216.3 L232.49,216.3 L232.56,216.3 L232.64,216.3 L232.73,216.3 L232.82,215.71 L232.91,213.39 L233.01,211.22 L233.12,209.16 L233.23,207.21 L233.35,205.36 L233.48,203.6 L233.61,201.92 L233.74,200.32 L233.88,198.78 L234.03,197.31 L234.18,195.9 L234.34,194.54 L234.5,193.23 L234.67,191.97 L234.84,190.76 L235.02,189.58 L235.21,188.45 L235.4,187.36 L235.6,186.3 L235.8,185.27 L236.0,184.27 L236.21,183.31 L236.43,182.37 L236.65,181.46 L236.88,180.58 L237.11,179.72 L237.35,178.89 L237.59,178.08 L237.84,177.29 L238.09,176.53 L238.35,175.78 L238.61,175.05 L238.88,174.35 L239.15,173.66 L239.43,172.99 L239.71,172.33 L240.0,171.7 L240.29,171.08 L240.58,170.47 L240.88,169.88 L241.19,169.31 L241.5,168.75 L241.81,168.2 L242.13,167.67 L242.45,167.15 L242.78,166.65 L243.11,166.15 L243.45,165.67 L243.79,165.21 L244.13,164.75 L244.48,164.31 L244.83,163.88 L245.19,163.45 L245.55,163.04 L245.91,162.65 L246.28,162.26 L246.65,161.88 L247.02,161.51 L247.4,161.16 L247.78,160.81 L248.17,160.48 L248.56,160.15 L248.95,159.83 L249.34,159.52 L249.74,159.23 L250.15,158.94 L250.55,158.66 L250.96,158.39 L251.37,158.13 L251.79,157.88 L252.2,157.63 L252.62,157.4 L253.05,157.17 L253.47,156.95 L253.9,156.74 L254.33,156.54 L254.77,156.35 L255.2,156.17 L255.64,155.99 L256.08,155.82 L256.53,155.66 L256.97,155.51 L257.42,155.37 L257.87,155.23 L258.32,155.1 L258.78,154.98 L259.23,154.87 L259.69,154.77 L260.15,154.67 L260.61,154.58 L261.08,154.5 L261.54,154.42 L262.01,154.36 L262.48,154.3 L262.94,154.25 L263.41,154.2 L263.89,154.17 L264.36,154.14 L264.83,154.11 L265.31,154.1 L265.78,154.09 L266.26,154.09 L266.74,154.1 L267.21,154.11 L267.69,154.13 L268.17,154.16 L268.65,154.19 L269.13,154.24 L269.61,154.29 L270.1,154.34 L270.58,154.41 L271.06,154.48 L271.54,154.55 L272.02,154.64 L272.5,154.73 L272.98,154.83 L273.47,154.93 L273.95,155.05 L274.43,155.17 L274.91,155.29 L275.39,155.43 L275.87,155.57 L276.35,155.71 L276.82,155.87 L277.3,156.03 L277.78,156.2 L278.25,156.37 L278.73,156.55 L279.2,156.74 L279.68,156.94 L280.15,157.14 L280.62,157.35 L281.09,157.57 L281.55,157.79 L282.02,158.02 L282.48,158.26 L282.95,158.5 L283.41,158.75 L283.87,159.01 L284.33,159.28 L284.78,159.55 L285.24,159.83 L285.69,160.11 L286.14,160.41 L286.59,160.71 L287.03,161.02 L287.48,161.33 L287.92,161.66 L288.36,161.99 L288.79,162.32 L289.23,162.67 L289.66,163.02 L290.09,163.38 L290.51,163.75 L290.94,164.12 L291.36,164.5 L291.77,164.89 L292.19,165.29 L292.6,165.7 L293.01,166.11 L293.42,166.53 L293.82,166.96 L294.22,167.4 L294.61,167.85 L295.0,168.3 L295.39,168.76 L295.78,169.24 L296.16,169.72 L296.54,170.21 L296.91,170.7 L297.29,171.21 L297.65,171.73 L298.02,172.25 L298.38,172.79 L298.73,173.34 L299.08,173.89 L299.43,174.46 L299.77,175.03 L300.11,175.62 L300.45,176.22 L300.78,176.83 L301.11,177.45 L301.43,178.08 L301.75,178.72 L302.06,179.38 L302.37,180.05 L302.68,180.73 L302.98,181.42 L303.27,182.13 L303.56,182.85 L303.85,183.59 L304.13,184.34 L304.41,185.11 L304.68,185.9 L304.95,186.7 L305.21,187.52 L305.47,188.35 L305.72,189.21 L305.97,190.08 L306.21,190.98 L306.45,191.89 L306.68,192.83 L306.91,193.79 L307.13,194.78 L307.35,195.79 L307.56,196.83 L307.76,197.9 L307.97,199.0 L308.16,200.13 L308.35,201.29 L308.54,202.49 L308.72,203.72 L308.89,205.0 L309.06,206.32 L309.22,207.68 L309.38,209.1 L309.53,210.56 L309.68,212.09 L309.82,213.67 L309.96,215.32 L310.09,217.05 L310.21,218.85 L310.33,220.74 L310.44,222.73 L310.55,224.82 L310.65,226.96 L310.75,226.96 L310.84,226.96 L310.92,226.96 L311.0,226.96 L311.07,226.96 L311.14,226.96 L311.2,226.96 L311.25,226.96 L311.3,226.96 L311.35,226.96 L311.39,226.96 L311.42,226.96 L311.44,226.96 L311.46,226.96 L311.48,226.96 L311.49,226.96 L311.5,226.96 L311.52,226.96 L311.54,226.96 L311.56,226.96 L311.6,226.96 L311.63,226.96 L311.68,226.96 L311.73,226.96 L311.78,226.96 L311.84,226.96 L311.91,226.96 L311.98,226.96 L312.06,226.96 L312.14,226.96 L312.23,226.96 L312.33,226.96 L312.43,225.16 L312.54,223.1 L312.65,221.15 L312.77,219.3 L312.89,217.54 L313.02,215.86 L313.15,214.26 L313.29,212.72 L313.44,211.25 L313.59,209.84 L313.75,208.48 L313.91,207.17 L314.08,205.91 L314.25,204.7 L314.43,203.52 L314.62,202.39 L314.81,201.29 L315.0,200.23 L315.2,199.21 L315.41,198.21 L315.62,197.25 L315.83,196.31 L316.05,195.4 L316.28,194.52 L316.51,193.66 L316.75,192.83 L316.99,192.02 L317.24,191.23 L317.49,190.46 L317.74,189.72 L318.01,188.99 L318.27,188.28 L318.54,187.59 L318.82,186.92 L319.1,186.27 L319.38,185.63 L319.67,185.01 L319.97,184.4 L320.27,183.82 L320.57,183.24 L320.88,182.68 L321.19,182.13 L321.51,181.6 L321.83,181.08 L322.16,180.58 L322.48,180.09 L322.82,179.61 L323.16,179.14 L323.5,178.68 L323.85,178.24 L324.2,177.81 L324.55,177.38 L324.91,176.98 L325.27,176.58 L325.64,176.19 L326.01,175.81 L326.38,175.44 L326.76,175.09 L327.14,174.74 L327.52,174.4 L327.91,174.08 L328.3,173.76 L328.69,173.45 L329.09,173.15 L329.49,172.86 L329.89,172.59 L330.3,172.31 L330.71,172.05 L331.12,171.8 L331.54,171.56 L331.96,171.32 L332.38,171.1 L332.8,170.88 L333.23,170.67 L333.66,170.47 L334.09,170.27 L334.53,170.09 L334.96,169.91 L335.4,169.75 L335.84,169.59 L336.29,169.43 L336.73,169.29 L337.18,169.15 L337.63,169.03 L338.09,168.9 L338.54,168.79 L339.0,168.69 L339.45,168.59 L339.91,168.5 L340.37,168.42 L340.84,168.34 L341.3,168.28 L341.77,168.22 L342.23,168.16 L342.7,168.12 L343.17,168.08 L343.64,168.05 L344.11,168.03 L344.59,168.01 L345.06,168.01 L345.53,168.0 L346.01,168.01 L346.49,168.02 L346.96,168.04 L347.44,168.07 L347.92,168.11 L348.4,168.15 L348.87,168.2 L349.35,168.25 L349.83,168.32 L350.31,168.39 L350.79,168.46 L351.27,168.55 L351.75,168.64 L352.23,168.74 L352.71,168.84 L353.19,168.96 L353.67,169.07 L354.15,169.2 L354.62,169.33 L355.1,169.47 L355.58,169.62 L356.05,169.77 L356.53,169.93 L357.0,170.1 L357.48,170.28 L357.95,170.46 L358.42,170.65 L358.89,170.84 L359.36,171.04 L359.83,171.25 L360.3,171.47 L360.76,171.69 L361.23,171.92 L361.69,172.16 L362.15,172.4 L362.61,172.65 L363.07,172.91 L363.52,173.18 L363.98,173.45 L364.43,173.73 L364.88,174.01 L365.33,174.31 L365.77,174.61 L366.22,174.92 L366.66,175.23 L367.1,175.55 L367.54,175.88 L367.97,176.22 L368.4,176.57 L368.83,176.92 L369.26,177.28 L369.68,177.64 L370.11,178.02 L370.52,178.4 L370.94,178.79 L371.35,179.19 L371.76,179.59 L372.17,180.01 L372.57,180.43 L372.97,180.86 L373.37,181.29 L373.77,181.74 L374.16,182.19 L374.54,182.66 L374.93,183.13 L375.31,183.61 L375.68,184.1 L376.06,184.6 L376.43,185.1 L376.79,185.62 L377.16,186.15 L377.51,186.68 L377.87,187.23 L378.22,187.78 L378.56,188.35 L378.91,188.92 L379.24,189.51 L379.58,190.11 L379.91,190.72 L380.23,191.34 L380.55,191.97 L380.87,192.61 L381.18,193.27 L381.49,193.93 L381.8,194.62 L382.09,195.31 L382.39,196.02 L382.68,196.74 L382.96,197.48 L383.24,198.23 L383.52,199.0 L383.79,199.78 L384.06,200.58 L384.32,201.4 L384.58,202.24 L384.83,203.09 L385.07,203.97 L385.31,204.86 L385.55,205.78 L385.78,206.72 L386.01,207.68 L386.23,208.67 L386.45,209.68 L386.66,210.72 L386.86,211.78 L387.06,212.88 L387.26,214.01 L387.45,215.17 L387.63,216.37 L387.81,217.61 L387.9,218.26" stroke="#ff0000" stroke-width="2.0"/>
<path d="M11.5,105.3 L11.51,105.3 L11.52,105.3 L11.54,105.3 L11.56,105.3 L11.58,105.3 L11.61,105.31 L11.65,105.31 L11.68,105.31 L11.73,105.31 L11.78,105.32 L11.83,105.32 L11.89,105.32 L11.95,105.33 L12.01,105.33 L12.08,105.34 L12.16,105.34 L12.24,105.35 L12.32,105.35 L12.41,105.36 L12.5,105.37 L12.6,105.37 L12.7,105.38 L12.81,105.39 L12.92,105.4 L13.03,105.4 L13.15,105.41 L13.27,105.42 L13.4,105.43 L13.53,105.45 L13.67,105.46 L13.81,105.47 L13.95,105.48 L14.1,105.5 L14.26,105.51 L14.41,105.52 L14.58,105.54 L14.74,105.56 L14.91,105.57 L15.08,105.59 L15.26,105.61 L15.44,105.63 L15.63,105.65 L15.82,105.67 L16.01,105.69 L16.21,105.71 L16.41,105.74 L16.62,105.76 L16.83,105.79 L17.04,105.82 L17.25,105.84 L17.47,105.87 L17.7,105.9 L17.93,105.93 L18.16,105.97 L18.39,106.0 L18.63,106.04 L18.87,106.07 L19.12,106.11 L19.37,106.15 L19.62,106.19 L19.88,106.23 L20.13,106.27 L20.4,106.32 L20.66,106.36 L20.93,106.41 L21.2,106.46 L21.48,106.51 L21.76,106.56 L22.04,106.61 L22.32,106.67 L22.61,106.73 L22.9,106.78 L23.19,106.85 L23.49,106.91 L23.79,106.97 L24.09,107.04 L24.39,107.1 L24.7,107.17 L25.01,107.24 L25.32,107.32 L25.64,107.39 L25.95,107.47 L26.27,107.55 L26.59,107.63 L26.92,107.71 L27.24,107.8 L27.57,107.89 L27.9,107.98 L28.24,108.07 L28.57,108.16 L28.91,108.26 L29.25,108.36 L29.59,108.46 L29.93,108.56 L30.28,108.67 L30.63,108.78 L30.97,108.89 L31.33,109.0 L31.68,109.12 L32.03,109.24 L32.39,109.36 L32.74,109.48 L33.1,109.61 L33.46,109.74 L33.82,109.87 L34.18,110.0 L34.55,110.14 L34.91,110.28 L35.28,110.42 L35.64,110.57 L36.01,110.72 L36.38,110.87 L36.75,111.02 L37.12,111.18 L37.49,111.34 L37.86,111.5 L38.24,111.67 L38.61,111.84 L38.98,112.01 L39.36,112.19 L39.73,112.37 L40.11,112.55 L40.48,112.73 L40.86,112.92 L41.24,113.11 L41.61,113.31 L41.99,113.51 L42.36,113.71 L42.74,113.92 L43.12,114.13 L43.49,114.34 L43.87,114.56 L44.25,114.78 L44.62,115.0 L45.0,115.23 L45.37,115.46 L45.75,115.69 L46.12,115.93 L46.5,116.18 L46.87,116.42 L47.24,116.67 L47.62,116.93 L47.99,117.19 L48.36,117.45 L48.73,117.72 L49.1,117.99 L49.46,118.26 L49.83,118.54 L50.2,118.83 L50.56,119.12 L50.92,119.41 L51.29,119.71 L51.65,120.01 L52.01,120.32 L52.36,120.63 L52.72,120.94 L53.08,121.26 L53.43,121.59 L53.78,121.92 L54.13,122.26 L54.48,122.6 L54.83,122.94 L55.17,123.29 L55.52,123.65 L55.86,124.01 L56.2,124.38 L56.53,124.75 L56.87,125.13 L57.2,125.52 L57.53,125.91 L57.86,126.3 L58.19,126.7 L58.51,127.11 L58.83,127.53 L59.15,127.95 L59.47,128.38 L59.79,128.81 L60.1,129.25 L60.41,129.7 L60.71,130.15 L61.02,130.62 L61.32,131.09 L61.62,131.56 L61.91,132.05 L62.21,132.54 L62.5,133.04 L62.78,133.55 L63.07,134.07 L63.35,134.6 L63.63,135.13 L63.9,135.67 L64.18,136.23 L64.44,136.79 L64.71,137.36 L64.97,137.95 L65.23,138.54 L65.49,139.14 L65.74,139.76 L65.99,140.39 L66.23,141.02 L66.47,141.67 L66.71,142.34 L66.95,143.01 L67.18,143.7 L67.41,144.41 L67.63,145.12 L67.85,145.85 L68.07,146.6 L68.28,147.37 L68.49,148.14 L68.69,148.94 L68.9,149.76 L69.09,150.59 L69.29,151.44 L69.48,152.32 L69.66,153.21 L69.84,154.13 L70.02,155.07 L70.2,156.04 L70.37,157.03 L70.53,158.05 L70.69,159.09 L70.85,160.17 L71.0,161.28 L71.15,162.42 L71.3,163.6 L71.44,164.82 L71.57,166.07 L71.7,167.37 L71.83,168.72 L71.96,170.12 L72.07,171.57 L72.19,173.07 L72.3,174.64 L72.41,176.28 L72.51,177.99 L72.6,179.78 L72.7,181.65 L72.78,183.63 L72.87,185.71 L72.95,187.91 L73.02,190.24 L73.09,192.73 L73.16,194.1 L73.22,194.1 L73.28,194.1 L73.33,194.1 L73.38,194.1 L73.42,194.1 L73.46,194.1 L73.49,194.1 L73.52,194.1 L73.55,194.1 L73.57,194.1 L73.59,194.1 L73.6,194.1 L73.61,194.1 L73.62,194.1 L73.63,194.1 L73.65,194.1 L73.68,194.1 L73.71,194.1 L73.75,194.1 L73.79,194.1 L73.84,194.1 L73.9,194.1 L73.96,194.1 L74.03,194.1 L74.1,194.1 L74.18,192.99 L74.26,190.36 L74.35,187.89 L74.45,185.58 L74.55,183.4 L74.65,181.34 L74.77,179.4 L74.89,177.55 L75.01,175.79 L75.14,174.11 L75.27,172.5 L75.42,170.97 L75.56,169.5 L75.71,168.08 L75.87,166.72 L76.03,165.42 L76.2,164.16 L76.38,162.94 L76.56,161.77 L76.74,160.64 L76.93,159.54 L77.13,158.48 L77.33,157.45 L77.53,156.46 L77.75,155.49 L77.96,154.56 L78.18,153.65 L78.41,152.77 L78.64,151.91 L78.88,151.08 L79.12,150.26 L79.37,149.48 L79.62,148.71 L79.88,147.96 L80.14,147.24 L80.41,146.53 L80.68,145.84 L80.96,145.17 L81.24,144.52 L81.52,143.88 L81.81,143.26 L82.11,142.66 L82.41,142.07 L82.71,141.49 L83.02,140.93 L83.34,140.39 L83.65,139.85 L83.98,139.33 L84.3,138.83 L84.63,138.34 L84.97,137.86 L85.31,137.39 L85.65,136.93 L86.0,136.49 L86.35,136.06 L86.71,135.64 L87.06,135.23 L87.43,134.83 L87.79,134.44 L88.17,134.06 L88.54,133.7 L88.92,133.34 L89.3,132.99 L89.68,132.66 L90.07,132.33 L90.46,132.01 L90.86,131.71 L91.26,131.41 L91.66,131.12 L92.07,130.84 L92.47,130.57 L92.88,130.31 L93.3,130.06 L93.72,129.81 L94.14,129.58 L94.56,129.35 L94.98,129.13 L95.41,128.93 L95.84,128.72 L96.28,128.53 L96.71,128.35 L97.15,128.17 L97.59,128.0 L98.04,127.84 L98.48,127.69 L98.93,127.55 L99.38,127.41 L99.83,127.28 L100.28,127.16 L100.74,127.05 L101.2,126.95 L101.65,126.85 L102.12,126.76 L102.58,126.68 L103.04,126.6 L103.51,126.54 L103.97,126.48 L104.44,126.43 L104.91,126.38 L105.38,126.34 L105.86,126.31 L106.33,126.29 L106.8,126.28 L107.28,126.27 L107.75,126.27 L108.23,126.27 L108.71,126.29 L109.19,126.31 L109.67,126.34 L110.15,126.37 L110.63,126.41 L111.11,126.46 L111.59,126.52 L112.07,126.58 L112.55,126.65 L113.03,126.73 L113.51,126.82 L113.99,126.91 L114.47,127.01 L114.95,127.11 L115.43,127.22 L115.91,127.34 L116.39,127.47 L116.87,127.6 L117.35,127.74 L117.83,127.89 L118.31,128.04 L118.78,128.2 L119.26,128.37 L119.74,128.55 L120.21,128.73 L120.68,128.92 L121.15,129.11 L121.63,129.32 L122.1,129.52 L122.56,129.74 L123.03,129.96 L123.5,130.19 L123.96,130.43 L124.42,130.68 L124.88,130.93 L125.34,131.19 L125.8,131.45 L126.26,131.72 L126.71,132.0 L127.16,132.29 L127.61,132.58 L128.06,132.88 L128.5,133.19 L128.95,133.51 L129.39,133.83 L129.83,134.16 L130.26,134.5 L130.69,134.84 L131.13,135.19 L131.55,135.55 L131.98,135.92 L132.4,136.29 L132.82,136.68 L133.24,137.07 L133.65,137.47 L134.06,137.87 L134.47,138.28 L134.88,138.71 L135.28,139.14 L135.68,139.57 L136.07,140.02 L136.47,140.47 L136.85,140.94 L137.24,141.41 L137.62,141.89 L138.0,142.38 L138.37,142.88 L138.74,143.38 L139.11,143.9 L139.47,144.43 L139.83,144.96 L140.19,145.51 L140.54,146.06 L140.89,146.63 L141.23,147.21 L141.57,147.79 L141.9,148.39 L142.23,149.0 L142.56,149.62 L142.88,150.25 L143.2,150.89 L143.52,151.55 L143.82,152.22 L144.13,152.9 L144.43,153.59 L144.72,154.3 L145.01,155.02 L145.3,155.76 L145.58,156.51 L145.86,157.28 L146.13,158.07 L146.4,158.87 L146.66,159.69 L146.92,160.52 L147.17,161.38 L147.42,162.25 L147.66,163.15 L147.9,164.06 L148.13,165.0 L148.35,165.96 L148.58,166.95 L148.79,167.96 L149.0,169.0 L149.21,170.07 L149.41,171.17 L149.61,172.3 L149.8,173.46 L149.98,174.66 L150.16,175.89 L150.34,177.17 L150.5,178.49 L150.67,179.85 L150.82,181.27 L150.98,182.73 L151.12,184.26 L151.26,185.84 L151.4,187.49 L151.53,189.22 L151.65,191.02 L151.77,192.91 L151.88,194.9 L151.99,196.99 L152.09,199.21 L152.19,201.55 L152.28,204.05 L152.36,206.72 L152.44,208.75 L152.51,208.75 L152.58,208.75 L152.64,208.75 L152.7,208.75 L152.75,208.75 L152.79,208.75 L152.83,208.75 L152.86,208.75 L152.89,208.75 L152.91,208.75 L152.92,208.75 L152.93,208.75 L152.94,208.75 L152.96,208.75 L152.98,208.75 L153.01,208.75 L153.04,208.75 L153.07,208.75 L153.12,208.75 L153.17,208.75 L153.22,208.75 L153.28,208.75 L153.35,208.75 L153.42,208.75 L153.5,206.92 L153.59,204.28 L153.68,201.81 L153.77,199.5 L153.87,197.32 L153.98,195.27 L154.09,193.32 L154.21,191.47 L154.33,189.71 L154.46,188.03 L154.6,186.43 L154.74,184.89 L154.88,183.42 L155.04,182.01 L155.19,180.65 L155.36,179.34 L155.52,178.08 L155.7,176.87 L155.88,175.69 L156.06,174.56 L156.25,173.46 L156.44,172.4 L156.65,171.38 L156.85,170.38 L157.06,169.42 L157.28,168.48 L157.5,167.57 L157.73,166.69 L157.96,165.83 L158.19,165.0 L158.44,164.19 L158.68,163.4 L158.93,162.63 L159.19,161.89 L159.45,161.16 L159.72,160.45 L159.99,159.76 L160.27,159.09 L160.55,158.44 L160.83,157.8 L161.12,157.18 L161.42,156.58 L161.72,155.99 L162.02,155.41 L162.33,154.85 L162.64,154.31 L162.96,153.77 L163.28,153.25 L163.6,152.75 L163.93,152.26 L164.27,151.78 L164.61,151.31 L164.95,150.85 L165.3,150.41 L165.65,149.98 L166.0,149.56 L166.36,149.15 L166.72,148.75 L167.09,148.36 L167.46,147.98 L167.83,147.61 L168.21,147.26 L168.59,146.91 L168.97,146.57 L169.36,146.25 L169.75,145.93 L170.15,145.62 L170.54,145.33 L170.94,145.04 L171.35,144.76 L171.76,144.49 L172.17,144.22 L172.58,143.97 L172.99,143.73 L173.41,143.49 L173.84,143.27 L174.26,143.05 L174.69,142.84 L175.12,142.64 L175.55,142.45 L175.98,142.26 L176.42,142.09 L176.86,141.92 L177.3,141.76 L177.75,141.61 L178.19,141.46 L178.64,141.33 L179.09,141.2 L179.55,141.08 L180.0,140.96 L180.46,140.86 L180.91,140.76 L181.37,140.67 L181.84,140.59 L182.3,140.52 L182.76,140.45 L183.23,140.39 L183.7,140.34 L184.16,140.29 L184.63,140.25 L185.11,140.22 L185.58,140.2 L186.05,140.19 L186.52,140.18 L187.0,140.18 L187.48,140.18 L187.95,140.2 L188.43,140.22 L188.91,140.25 L189.38,140.28 L189.86,140.32 L190.34,140.37 L190.82,140.43 L191.3,140.49 L191.78,140.56 L192.26,140.64 L192.74,140.72 L193.22,140.81 L193.7,140.91 L194.18,141.02 L194.66,141.13 L195.14,141.25 L195.62,141.37 L196.1,141.51 L196.57,141.65 L197.05,141.79 L197.53,141.95 L198.0,142.11 L198.48,142.28 L198.95,142.45 L199.42,142.63 L199.9,142.82 L200.37,143.02 L200.84,143.22 L201.31,143.43 L201.77,143.64 L202.24,143.87 L202.7,144.1 L203.17,144.33 L203.63,144.58 L204.09,144.83 L204.55,145.09 L205.0,145.35 L205.46,145.63 L205.91,145.9 L206.36,146.19 L206.81,146.48 L207.25,146.78 L207.7,147.09 L208.14,147.41 L208.58,147.73 L209.02,148.06 L209.45,148.4 L209.89,148.74 L210.32,149.09 L210.74,149.45 L211.17,149.82 L211.59,150.19 L212.01,150.58 L212.42,150.97 L212.84,151.36 L213.25,151.77 L213.65,152.18 L214.06,152.6 L214.46,153.03 L214.86,153.47 L215.25,153.92 L215.64,154.37 L216.03,154.83 L216.41,155.31 L216.8,155.79 L217.17,156.28 L217.55,156.77 L217.92,157.28 L218.28,157.8 L218.64,158.32 L219.0,158.86 L219.36,159.4 L219.71,159.96 L220.05,160.52 L220.4,161.1 L220.73,161.69 L221.07,162.28 L221.4,162.89 L221.72,163.51 L222.05,164.14 L222.36,164.79 L222.68,165.44 L222.98,166.11 L223.29,166.79 L223.59,167.49 L223.88,168.2 L224.17,168.92 L224.46,169.66 L224.74,170.41 L225.01,171.18 L225.28,171.96 L225.55,172.76 L225.81,173.58 L226.07,174.42 L226.32,175.27 L226.57,176.15 L226.81,177.04 L227.05,177.96 L227.28,178.9 L227.5,179.86 L227.72,180.84 L227.94,181.86 L228.15,182.9 L228.36,183.96 L228.56,185.06 L228.75,186.19 L228.94,187.35 L229.13,188.55 L229.31,189.79 L229.48,191.06 L229.65,192.38 L229.81,193.74 L229.97,195.16 L230.12,196.62 L230.26,198.15 L230.41,199.73 L230.54,201.38 L230.67,203.11 L230.79,204.91 L230.91,206.8 L231.02,208.79 L231.13,210.89 L231.23,213.1 L231.33,215.44 L231.42,216.3 L231.5,216.3 L231.58,216.3 L231.65,216.3 L231.72,216.3 L231.78,216.3 L231.83,216.3 L231.88,216.3 L231.93,216.3 L231.97,216.3 L232.0,216.3 L232.02,216.3 L232.04,216.3 L232.06,216.3 L232.07,216.3 L232.08,216.3 L232.1,216.3 L232.12,216.3 L232.14,216.3 L232.18,216.3 L232.21,216.3 L232.26,216.3 L232.31,216.3 L232.36,216.3 L232.42,216.3 L232.49,216.3 L232.56,216.3 L232.64,216.3 L232.73,216.3 L232.82,215.71 L232.91,213.39 L233.01,211.22 L233.12,209.16 L233.23,207.21 L233.35,205.36 L233.48,203.6 L233.61,201.92 L233.74,200.32 L233.88,198.78 L234.03,197.31 L234.18,195.9 L234.34,194.54 L234.5,193.23 L234.67,191.97 L234.84,190.76 L235.02,189.58 L235.21,188.45 L235.4,187.36 L235.6,186.3 L235.8,185.27 L236.0,184.27 L236.21,183.31 L236.43,182.37 L236.65,181.46 L236.88,180.58 L237.11,179.72 L237.35,178.89 L237.59,178.08 L237.84,177.29 L238.09,176.53 L238.35,175.78 L238.61,175.05 L238.88,174.35 L239.15,173.66 L239.43,172.99 L239.71,172.33 L240.0,171.7 L240.29,171.08 L240.58,170.47 L240.88,169.88 L241.19,169.31 L241.5,168.75 L241.81,168.2 L242.13,167.67 L242.45,167.15 L242.78,166.65 L243.11,166.15 L243.45,165.67 L243.79,165.21 L244.13,164.75 L244.48,164.31 L244.83,163.88 L245.19,163.45 L245.55,163.04 L245.91,162.65 L246.28,162.26 L246.65,161.88 L247.02,161.51 L247.4,161.16 L247.78,160.81 L248.17,160.48 L248.56,160.15 L248.95,159.83 L249.34,159.52 L249.74,159.23 L250.15,158.94 L250.55,158.66 L250.96,158.39 L251.37,158.13 L251.79,157.88 L252.2,157.63 L252.62,157.4 L253.05,157.17 L253.47,156.95 L253.9,156.74 L254.33,156.54 L254.77,156.35 L255.2,156.17 L255.64,155.99 L256.08,155.82 L256.53,155.66 L256.97,155.51 L257.42,155.37 L257.87,155.23 L258.32,155.1 L258.78,154.98 L259.23,154.87 L259.69,154.77 L260.15,154.67 L260.61,154.58 L261.08,154.5 L261.54,154.42 L262.01,154.36 L262.48,154.3 L262.94,154.25 L263.41,154.2 L263.89,154.17 L264.36,154.14 L264.83,154.11 L265.31,154.1 L265.78,154.09 L266.26,154.09 L266.74,154.1 L267.21,154.11 L267.69,154.13 L268.17,154.16 L268.65,154.19 L269.13,154.24 L269.61,154.29 L270.1,154.34 L270.58,154.41 L271.06,154.48 L271.54,154.55 L272.02,154.64 L272.5,154.73 L272.98,154.83 L273.47,154.93 L273.95,155.05 L274.43,155.17 L274.91,155.29 L275.39,155.43 L275.87,155.57 L276.35,155.71 L276.82,155.87 L277.3,156.03 L277.78,156.2 L278.25,156.37 L278.73,156.55 L279.2,156.74 L279.68,156.94 L280.15,157.14 L280.62,157.35 L281.09,157.57 L281.55,157.79 L282.02,158.02 L282.48,158.26 L282.95,158.5 L283.41,158.75 L283.87,159.01 L284.33,159.28 L284.78,159.55 L285.24,159.83 L285.69,160.11 L286.14,160.41 L286.59,160.71 L287.03,161.02 L287.48,161.33 L287.92,161.66 L288.36,161.99 L288.79,162.32 L289.23,162.67 L289.66,163.02 L290.09,163.38 L290.51,163.75 L290.94,164.12 L291.36,164.5 L291.77,164.89 L292.19,165.29 L292.6,165.7 L293.01,166.11 L293.42,166.53 L293.82,166.96 L294.22,167.4 L294.61,167.85 L295.0,168.3 L295.39,168.76 L295.78,169.24 L296.16,169.72 L296.54,170.21 L296.91,170.7 L297.29,171.21 L297.65,171.73 L298.02,172.25 L298.38,172.79 L298.73,173.34 L299.08,173.89 L299.43,174.46 L299.77,175.03 L300.11,175.62 L300.45,176.22 L300.78,176.83 L301.11,177.45 L301.43,178.08 L301.75,178.72 L302.06,179.38 L302.37,180.05 L302.68,180.73 L302.98,181.42 L303.27,182.13 L303.56,182.85 L303.85,183.59 L304.13,184.34 L304.41,185.11 L304.68,185.9 L304.95,186.7 L305.21,187.52 L305.47,188.35 L305.72,189.21 L305.97,190.08 L306.21,190.98 L306.45,191.89 L306.68,192.83 L306.91,193.79 L307.13,194.78 L307.35,195.79 L307.56,196.83 L307.76,197.9 L307.97,199.0 L308.16,200.13 L308.35,201.29 L308.54,202.49 L308.72,203.72 L308.89,205.0 L309.06,206.32 L309.22,207.68 L309.38,209.1 L309.53,210.56 L309.68,212.09 L309.82,213.67 L309.96,215.32 L310.09,217.05 L310.21,218.85 L310.33,220.74 L310.44,222.73 L310.55,224.82 L310.65,226.96 L310.75,226.96 L310.84,226.96 L310.92,226.96 L311.0,226.96 L311.07,226.96 L311.14,226.96 L311.2,226.96 L311.25,226.96 L311.3,226.96 L311.35,226.96 L311.39,226.96 L311.42,226.96 L311.44,226.96 L311.46,226.96 L311.48,226.96 L311.49,226.96 L311.5,226.96 L311.52,226.96 L311.54,226.96 L311.56,226.96 L311.6,226.96 L311.63,226.96 L311.68,226.96 L311.73,226.96 L311.78,226.96 L311.84,226.96 L311.91,226.96 L311.98,226.96 L312.06,226.96 L312.14,226.96 L312.23,226.96 L312.33,226.96 L312.43,225.16 L312.54,223.1 L312.65,221.15 L312.77,219.3 L312.89,217.54 L313.02,215.86 L313.15,214.26 L313.29,212.72 L313.44,211.25 L313.59,209.84 L313.75,208.48 L313.91,207.17 L314.08,205.91 L314.25,204.7 L314.43,203.52 L314.62,202.39 L314.81,201.29 L315.0,200.23 L315.2,199.21 L315.41,198.21 L315.62,197.25 L315.83,196.31 L316.05,195.4 L316.28,194.52 L316.51,193.66 L316.75,192.83 L316.99,192.02 L317.24,191.23 L317.49,190.46 L317.74,189.72 L318.01,188.99 L318.27,188.28 L318.54,187.59 L318.82,186.92 L319.1,186.27 L319.38,185.63 L319.67,185.01 L319.97,184.4 L320.27,183.82 L320.57,183.24 L320.88,182.68 L321.19,182.13 L321.51,181.6 L321.83,181.08 L322.16,180.58 L322.48,180.09 L322.82,179.61 L323.16,179.14 L323.5,178.68 L323.85,178.24 L324.2,177.81 L324.55,177.38 L324.91,176.98 L325.27,176.58 L325.64,176.19 L326.01,175.81 L326.38,175.44 L326.76,175.09 L327.14,174.74 L327.52,174.4 L327.91,174.08 L328.3,173.76 L328.69,173.45 L329.09,173.15 L329.49,172.86 L329.89,172.59 L330.3,172.31 L330.71,172.05 L331.12,171.8 L331.54,171.56 L331.96,171.32 L332.38,171.1 L332.8,170.88 L333.23,170.67 L333.66,170.47 L334.09,170.27 L334.53,170.09 L334.96,169.91 L335.4,169.75 L335.84,169.59 L336.29,169.43 L336.73,169.29 L337.18,169.15 L337.63,169.03 L338.09,168.9 L338.54,168.79 L339.0,168.69 L339.45,168.59 L339.91,168.5 L340.37,168.42 L340.84,168.34 L341.3,168.28 L341.77,168.22 L342.23,168.16 L342.7,168.12 L343.17,168.08 L343.64,168.05 L344.11,168.03 L344.59,168.01 L345.06,168.01 L345.53,168.0 L346.01,168.01 L346.49,168.02 L346.96,168.04 L347.44,168.07 L347.92,168.11 L348.4,168.15 L348.87,168.2 L349.35,168.25 L349.83,168.32 L350.31,168.39 L350.79,168.46 L351.27,168.55 L351.75,168.64 L352.23,168.74 L352.71,168.84 L353.19,168.96 L353.67,169.07 L354.15,169.2 L354.62,169.33 L355.1,169.47 L355.58,169.62 L356.05,169.77 L356.53,169.93 L357.0,170.1 L357.48,170.28 L357.95,170.46 L358.42,170.65 L358.89,170.84 L359.36,171.04 L359.83,171.25 L360.3,171.47 L360.76,171.69 L361.23,171.92 L361.69,172.16 L362.15,172.4 L362.61,172.65 L363.07,172.91 L363.52,173.18 L363.98,173.45 L364.43,173.73 L364.88,174.01 L365.33,174.31 L365.77,174.61 L366.22,174.92 L366.66,175.23 L367.1,175.55 L367.54,175.88 L367.97,176.22 L368.4,176.57 L368.83,176.92 L369.26,177.28 L369.68,177.64 L370.11,178.02 L370.52,178.4 L370.94,178.79 L371.35,179.19 L371.76,179.59 L372.17,180.01 L372.57,180.43 L372.97,180.86 L373.37,181.29 L373.77,181.74 L374.16,182.19 L374.54,182.66 L374.93,183.13 L375.31,183.61 L375.68,184.1 L376.06,184.6 L376.43,185.1 L376.79,185.62 L377.16,186.15 L377.51,186.68 L377.87,187.23 L378.22,187.78 L378.56,188.35 L378.91,188.92 L379.24,189.51 L379.58,190.11 L379.91,190.72 L380.23,191.34 L380.55,191.97 L380.87,192.61 L381.18,193.27 L381.49,193.93 L381.8,194.62 L382.09,195.31 L382.39,196.02 L382.68,196.74 L382.96,197.48 L383.24,198.23 L383.52,199.0 L383.79,199.78 L384.06,200.58 L384.32,201.4 L384.58,202.24 L384.83,203.09 L385.07,203.97 L385.31,204.86 L385.55,205.78 L385.78,206.72 L386.01,207.68 L386.23,208.67 L386.45,209.68 L386.66,210.72 L386.86,211.78 L387.06,212.88 L387.26,214.01 L387.45,215.17 L387.63,216.37 L387.81,217.61 L387.9,218.26" stroke="#000" stroke-width="2.1" stroke-dasharray="6.6 1.4"/>
</g>
</svg>
</body></html>
